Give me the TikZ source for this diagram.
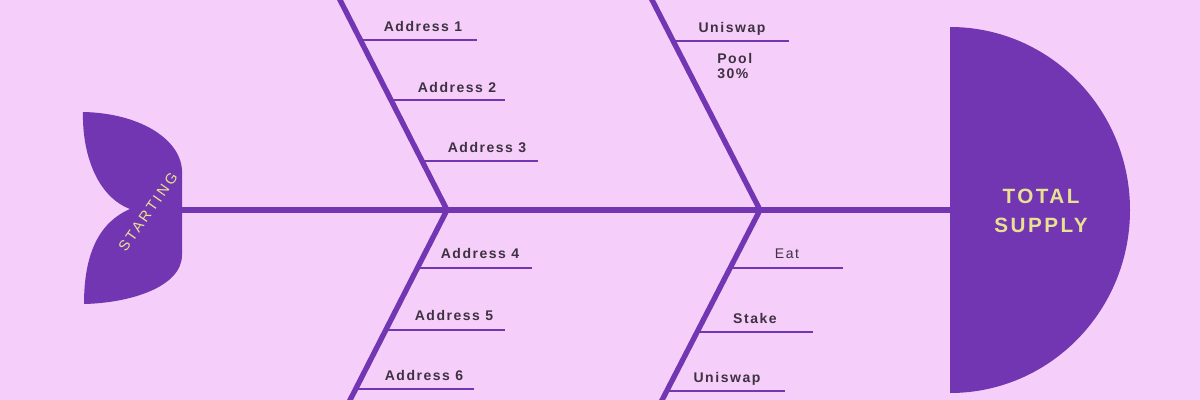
\documentclass[tikz,border=0pt]{standalone}
\usepackage{fontspec}
\setmainfont{Liberation Sans}
\newfontfamily\lblfont[LetterSpace=11]{Liberation Sans}
\newfontfamily\headfont[LetterSpace=12]{Liberation Sans}
\newfontfamily\startfont[LetterSpace=18]{Liberation Sans}
\usepackage{xcolor}
\usetikzlibrary{calc}

\definecolor{bg}{HTML}{F5CEF9}
\definecolor{fish}{HTML}{7236B2}
\definecolor{ink}{HTML}{3E3142}
\definecolor{gold}{HTML}{E9E192}

\tikzset{
	bone/.style = {draw = fish, line width = 4pt},
	rib/.style = {draw = fish, line width = 2pt},
	lbl/.style = {text = ink, anchor = base, inner sep = 0pt, font = \lblfont\bfseries\fontsize{10.5}{11.25}\selectfont},
}

\begin{document}
\begin{tikzpicture}[x = 0.75pt, y = -0.75pt]
		\def\W{1200};
		\def\H{400};
		
		\fill [bg] (0,0) rectangle (\W,\H);
		\useasboundingbox (0,0) rectangle (\W,\H);
		\clip (0,0) rectangle (\W,\H);
		
		% spine and the four bones
		\coordinate (tail) at (182,210);
		\coordinate (head) at (952,210);
		\coordinate (j1) at (447,210);
		\coordinate (j2) at (760,210);
		\coordinate (b1) at (337,-6);
		\coordinate (b2) at (649,-6);
		\coordinate (b3) at (347,406);
		\coordinate (b4) at (659,406);
		
		\draw [bone] (tail) -- (head);
		\draw [bone] (j1) -- (b1);
		\draw [bone] (j1) -- (b3);
		\draw [bone] (j2) -- (b2);
		\draw [bone] (j2) -- (b4);
		
		% tail
		\fill [fish] (83,112) .. controls (138,113) and (180,138) .. (182,170) -- (182,255) .. controls (182,287) and (130,303) .. (84,304) .. controls (84,252) and (100,222) .. (130,209) .. controls (96,196) and (82,152) .. cycle;
		\node [text = gold, rotate = 55, inner sep = 0pt, font = \startfont\fontsize{11}{12}\selectfont] (start) at (148,212) {STARTING};
		
		% head
		\fill [fish] (950,393) arc [start angle = 90, end angle = -90, x radius = 180, y radius = 183] -- cycle;
		\node [text = gold, align = center, inner sep = 0pt, font = \headfont\bfseries\fontsize{15.5}{22}\selectfont] (total) at (1041,211) {TOTAL\\SUPPLY};
		
		% ribs, upper left
		\coordinate (r1) at (361,40);
		\coordinate (r2) at (392,100);
		\coordinate (r3) at (423,161);
		\draw [rib] (r1) -- ++(116,0);
		\draw [rib] (r2) -- ++(113,0);
		\draw [rib] (r3) -- ++(115,0);
		\node [lbl] (ad1) at (423,31) {Address 1};
		\node [lbl] (ad2) at (457,92) {Address 2};
		\node [lbl] (ad3) at (487,152) {Address 3};
		
		% ribs, lower left
		\coordinate (r4) at (418,268);
		\coordinate (r5) at (387,330);
		\coordinate (r6) at (357,389);
		\draw [rib] (r4) -- ++(114,0);
		\draw [rib] (r5) -- ++(118,0);
		\draw [rib] (r6) -- ++(117,0);
		\node [lbl] (ad4) at (480,258) {Address 4};
		\node [lbl] (ad5) at (454,320) {Address 5};
		\node [lbl] (ad6) at (424,380) {Address 6};
		
		% ribs, upper right
		\coordinate (r7) at (674,41);
		\draw [rib] (r7) -- ++(115,0);
		\node [lbl] (uni1) at (732,32) {Uniswap};
		\node [lbl, anchor = north west, align = left] (pool) at (717,53) {Pool\\30\%};
		
		% ribs, lower right
		\coordinate (r8) at (730,268);
		\coordinate (r9) at (697,332);
		\coordinate (r10) at (667,391);
		\draw [rib] (r8) -- ++(113,0);
		\draw [rib] (r9) -- ++(116,0);
		\draw [rib] (r10) -- ++(118,0);
		\node [lbl, font = \lblfont\fontsize{10.5}{11.25}\selectfont] (eat) at (787,258) {Eat};
		\node [lbl] (stake) at (755,323) {Stake};
		\node [lbl] (uni2) at (727,382) {Uniswap};
	\end{tikzpicture}
\end{document}
